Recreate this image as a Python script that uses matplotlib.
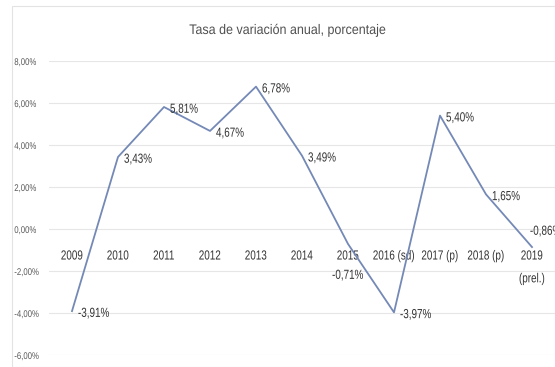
import matplotlib
matplotlib.use("Agg")
import matplotlib.pyplot as plt
from matplotlib.patches import Rectangle
from matplotlib.patheffects import AbstractPathEffect
from matplotlib.transforms import Affine2D

categories = ["2009", "2010", "2011", "2012", "2013", "2014", "2015",
              "2016 (sd)", "2017 (p)", "2018 (p)", "2019\n(prel.)"]
values = [-3.91, 3.43, 5.81, 4.67, 6.78, 3.49, -0.71, -3.97, 5.40, 1.65, -0.86]
y_ticks = [-6, -4, -2, 0, 2, 4, 6, 8]
title = "Tasa de variación anual, porcentaje"

plt.rcParams["font.family"] = ["Liberation Sans", "DejaVu Sans"]


class Squeeze(AbstractPathEffect):
    """Narrow the glyphs horizontally, keeping one edge (or the centre) fixed."""

    def __init__(self, sx=0.8, anchor="center"):
        super().__init__()
        self.sx = sx
        self.anchor = anchor

    def draw_path(self, renderer, gc, tpath, affine, rgbFace=None):
        v = tpath.vertices
        if len(v):
            lo, hi = v[:, 0].min(), v[:, 0].max()
            cx = {"left": lo, "right": hi}.get(self.anchor, (lo + hi) / 2)
        else:
            cx = 0
        t = Affine2D().translate(-cx, 0).scale(self.sx, 1).translate(cx, 0) + affine
        renderer.draw_path(gc, tpath, t, rgbFace)


def pct(v):
    return f"{v:.2f}%".replace(".", ",")


fig = plt.figure(figsize=(5.55, 3.67), dpi=100)
fig.patches.append(Rectangle((12 / 555, 0.0), 1.0, 1 - 6 / 367, transform=fig.transFigure,
                             fill=False, edgecolor="#e3e3e3", linewidth=0.8))
ax = fig.add_axes([49 / 555, 1 - 355 / 367, 1 - 49 / 555, (355 - 61) / 367])

# category axis sits on the zero line
ax.spines["bottom"].set_position(("data", 0))
for s in ax.spines.values():
    s.set_visible(False)

x = list(range(len(categories)))
ax.plot(x, values, color="#7489b6", linewidth=1.3, zorder=3)

ax.set_xlim(-0.5, len(categories) - 0.5)
ax.set_ylim(-6, 8)
ax.set_yticks(y_ticks)
ylabels = ax.set_yticklabels([pct(v) for v in y_ticks], fontsize=7, color="#595959")
ax.tick_params(axis="y", length=0, pad=25)
for lab in ylabels:
    lab.set_horizontalalignment("left")
    lab.set_path_effects([Squeeze(0.8, "left")])
ax.grid(axis="y", color="#e6e6e6", linewidth=0.8)
ax.set_axisbelow(True)

ax.set_xticks(x)
ax.tick_params(axis="x", length=0, pad=15.5)
xlabels = ax.set_xticklabels(categories, fontsize=9.5, color="#333333", linespacing=2.2)
for lab in xlabels:
    lab.set_verticalalignment("top")
    lab.set_path_effects([Squeeze(0.75, "center")])

# label placement per point: (dx, dy) in points, horizontal alignment
placement = {6: (0, -23, "center"), 10: (-1.5, 11, "left")}
for i, v in enumerate(values):
    dx, dy, ha = placement.get(i, (4.3, -2, "left"))
    ax.annotate(pct(v), (i, v), xytext=(dx, dy), textcoords="offset points",
                fontsize=9.5, color="#333333", ha=ha, va="center",
                annotation_clip=False, zorder=4,
                path_effects=[Squeeze(0.75, ha)])

fig.text(288 / 555, 1 - 30 / 367, title, ha="center", va="center",
         fontsize=10, color="#505050", path_effects=[Squeeze(0.9, "center")])

fig.savefig("out.png", dpi=100)
